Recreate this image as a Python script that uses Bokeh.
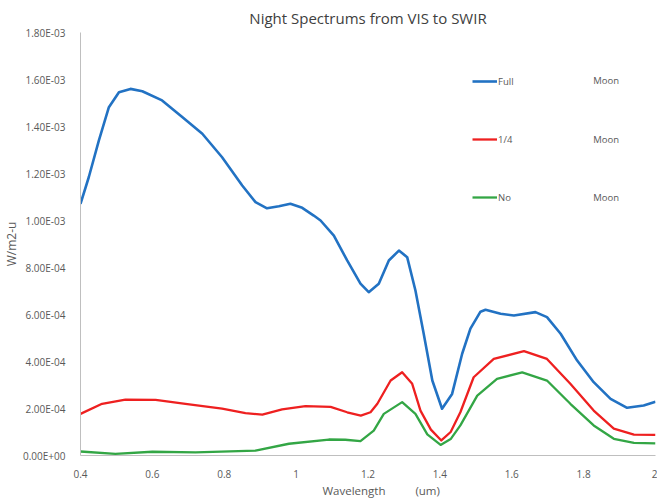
from bokeh.plotting import figure
from bokeh.models import FixedTicker, CustomJSTickFormatter, Legend, LegendItem, Label, Range1d, Title
from bokeh.embed import file_html
from bokeh.resources import INLINE

# Data (wavelength in um, radiance in W/m2-u)
wl_full = [0.400, 0.423, 0.451, 0.479, 0.507, 0.539, 0.572, 0.627, 0.683, 0.739, 0.794, 0.850, 0.887,
           0.919, 0.952, 0.984, 1.017, 1.049, 1.068, 1.105, 1.142, 1.179, 1.202, 1.230, 1.258, 1.286,
           1.309, 1.332, 1.355, 1.379, 1.406, 1.434, 1.462, 1.485, 1.513, 1.527, 1.569, 1.606, 1.666,
           1.698, 1.736, 1.782, 1.828, 1.875, 1.921, 1.967, 2.000]
full_moon = [1.071e-3, 1.184e-3, 1.340e-3, 1.482e-3, 1.546e-3, 1.560e-3, 1.550e-3, 1.511e-3, 1.440e-3,
             1.369e-3, 1.269e-3, 1.149e-3, 1.078e-3, 1.052e-3, 1.061e-3, 1.071e-3, 1.054e-3, 1.021e-3,
             1.000e-3, 0.936e-3, 0.830e-3, 0.731e-3, 0.695e-3, 0.731e-3, 0.830e-3, 0.872e-3, 0.844e-3,
             0.702e-3, 0.518e-3, 0.319e-3, 0.199e-3, 0.262e-3, 0.433e-3, 0.540e-3, 0.612e-3, 0.620e-3,
             0.603e-3, 0.596e-3, 0.610e-3, 0.589e-3, 0.518e-3, 0.404e-3, 0.312e-3, 0.241e-3, 0.203e-3,
             0.213e-3, 0.229e-3]

wl_quarter = [0.400, 0.460, 0.525, 0.609, 0.692, 0.794, 0.859, 0.906, 0.961, 1.026, 1.096, 1.142, 1.180,
              1.207, 1.226, 1.263, 1.295, 1.323, 1.346, 1.375, 1.404, 1.430, 1.457, 1.494, 1.550, 1.634,
              1.698, 1.763, 1.828, 1.884, 1.940, 2.000]
quarter_moon = [0.177e-3, 0.220e-3, 0.238e-3, 0.237e-3, 0.220e-3, 0.199e-3, 0.180e-3, 0.174e-3, 0.196e-3,
                0.210e-3, 0.207e-3, 0.184e-3, 0.170e-3, 0.184e-3, 0.220e-3, 0.319e-3, 0.354e-3, 0.305e-3,
                0.191e-3, 0.110e-3, 0.064e-3, 0.100e-3, 0.184e-3, 0.333e-3, 0.411e-3, 0.444e-3, 0.411e-3,
                0.305e-3, 0.191e-3, 0.114e-3, 0.089e-3, 0.088e-3]

wl_none = [0.400, 0.497, 0.600, 0.720, 0.887, 0.980, 1.091, 1.137, 1.179, 1.216, 1.244, 1.295, 1.332,
           1.365, 1.402, 1.430, 1.457, 1.504, 1.559, 1.629, 1.698, 1.763, 1.828, 1.884, 1.940, 2.000]
no_moon = [0.017e-3, 0.007e-3, 0.016e-3, 0.013e-3, 0.021e-3, 0.050e-3, 0.068e-3, 0.067e-3, 0.061e-3,
           0.106e-3, 0.177e-3, 0.227e-3, 0.177e-3, 0.090e-3, 0.045e-3, 0.070e-3, 0.128e-3, 0.255e-3,
           0.326e-3, 0.354e-3, 0.319e-3, 0.220e-3, 0.128e-3, 0.071e-3, 0.054e-3, 0.052e-3]

x_ticks = [0.4, 0.6, 0.8, 1.0, 1.2, 1.4, 1.6, 1.8, 2.0]
y_ticks = [0, 2e-4, 4e-4, 6e-4, 8e-4, 1.0e-3, 1.2e-3, 1.4e-3, 1.6e-3, 1.8e-3]
series_names = ["Full", "1/4", "No"]
series_suffix = "Moon"
x_title = "Wavelength" + "\u00a0" * 10 + "(um)"
y_title = "W/m2-u"
colors = ["#2272C3", "#EE2020", "#33A645"]

FONT = "Open Sans"
GRAY = "#595959"

p = figure(frame_width=575, frame_height=423, output_backend="svg", toolbar_location=None,
           x_range=Range1d(0.4, 2.0), y_range=Range1d(0, 1.8e-3),
           title="Night Spectrums from VIS to SWIR")
p.min_border_left = 72
p.min_border_right = 2
p.min_border_top = 24
p.min_border_bottom = 44
p.outline_line_color = None
p.grid.visible = False

p.title.align = "center"
p.title.text_font = FONT
p.title.text_font_size = "15px"
p.title.text_font_style = "normal"
p.title.text_color = "#404040"

r_full = p.line(wl_full, full_moon, color=colors[0], line_width=2.6, line_join="round")
r_q = p.line(wl_quarter, quarter_moon, color=colors[1], line_width=2.3, line_join="round")
r_no = p.line(wl_none, no_moon, color=colors[2], line_width=2.3, line_join="round")

for ax in (p.xaxis[0], p.yaxis[0]):
    ax.axis_line_color = "#BFBFBF"
    ax.axis_line_width = 1
    ax.major_tick_line_color = None
    ax.minor_tick_line_color = None
    ax.major_label_text_font = FONT
    ax.major_label_text_font_size = "10px"
    ax.major_label_text_color = GRAY
    ax.axis_label_text_font = FONT
    ax.axis_label_text_font_size = "12px"
    ax.axis_label_text_font_style = "normal"
    ax.axis_label_text_color = GRAY

p.xaxis.ticker = FixedTicker(ticks=x_ticks)
p.xaxis.formatter = CustomJSTickFormatter(code="return (Math.round(tick*10)/10).toString();")
p.xaxis.major_label_standoff = 8

p.yaxis.ticker = FixedTicker(ticks=y_ticks)
p.yaxis.formatter = CustomJSTickFormatter(code="""
const s = tick.toExponential(2).toUpperCase();
const parts = s.split("E");
let e = parts[1];
const sign = e[0] === "-" ? "-" : "+";
e = e.replace(/[+-]/, "");
if (e.length < 2) { e = "0" + e; }
return parts[0] + "E" + sign + e;
""")
p.yaxis.major_label_standoff = 9
p.yaxis.axis_label = y_title
p.yaxis.axis_label_standoff = 0

xt = Title(text=x_title, align="left", offset=242, text_font=FONT, text_font_size="11.5px",
           text_font_style="normal", text_color=GRAY, standoff=0)
p.add_layout(xt, "below")

legend = Legend(items=[LegendItem(label=series_names[0], renderers=[r_full]),
                       LegendItem(label=series_names[1], renderers=[r_q]),
                       LegendItem(label=series_names[2], renderers=[r_no])],
                location=(392, 248), orientation="vertical")
legend.background_fill_alpha = 0
legend.border_line_color = None
legend.glyph_width = 25
legend.glyph_height = 20
legend.label_height = 20
legend.label_standoff = 1
legend.spacing = 38
legend.padding = 0
legend.margin = 0
legend.label_text_font = FONT
legend.label_text_font_size = "9.5px"
legend.label_text_color = GRAY
p.add_layout(legend)

for i in range(3):
    p.add_layout(Label(x=1.827, y=1.595e-3 - i * 2.49e-4, text=series_suffix, text_font=FONT,
                       text_font_size="9.5px", text_color=GRAY, text_baseline="middle"))

open("out.html", "w").write(file_html(p, INLINE))
